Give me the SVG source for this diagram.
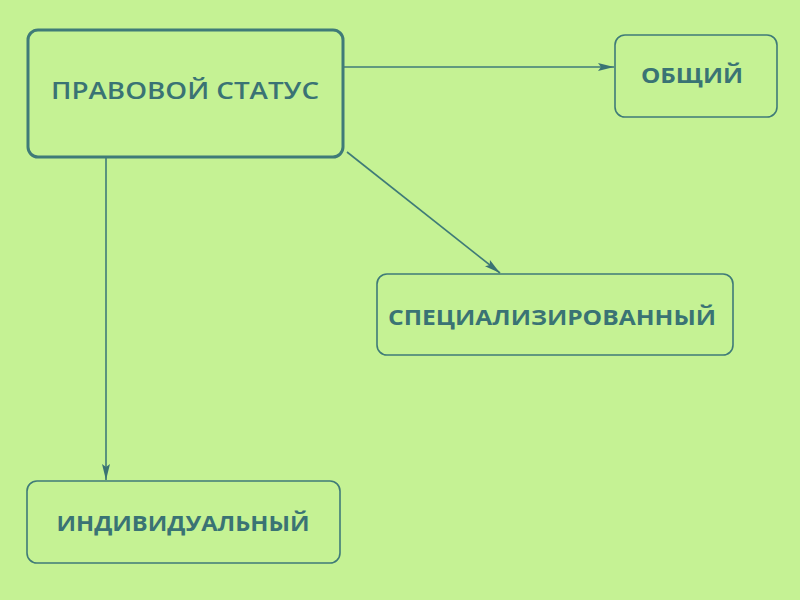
<svg xmlns="http://www.w3.org/2000/svg" width="800" height="600" viewBox="0 0 800 600">
<defs>
<style>
.box{fill:none;stroke:#3f7b78;stroke-width:1.6}
.main{fill:none;stroke:#3f7b78;stroke-width:3}
.lbl{font-family:"Open Sans","Liberation Sans",sans-serif;font-weight:bold;font-size:22px;fill:#3a7374;text-anchor:middle}
.mlbl{font-family:"Open Sans","Liberation Sans",sans-serif;font-weight:600;font-size:24px;fill:#3a7374;text-anchor:middle}
.conn{stroke:#3f7b78;stroke-width:1.6;fill:none}
</style>
<marker id="arr" viewBox="0 0 16 8" refX="16" refY="4" markerWidth="16" markerHeight="8" markerUnits="userSpaceOnUse" orient="auto">
<path d="M0,0 L16,4 L0,8 L3,4 Z" fill="#3a7374"/>
</marker>
</defs>
<rect width="800" height="600" fill="#c5f294"/>
<g id="connectors">
<line class="conn" x1="343" y1="67" x2="614" y2="67" marker-end="url(#arr)"/>
<line class="conn" x1="347" y1="152" x2="500" y2="273" marker-end="url(#arr)"/>
<line class="conn" x1="106" y1="157" x2="106" y2="480" marker-end="url(#arr)"/>
</g>
<g id="node-main">
<rect class="main" x="28" y="30" width="315" height="127" rx="10"/>
<text class="mlbl" x="185" y="99" textLength="268" lengthAdjust="spacingAndGlyphs">ПРАВОВОЙ  СТАТУС</text>
</g>
<g id="node-general">
<rect class="box" x="615" y="35" width="162" height="82" rx="10"/>
<text class="lbl" x="692" y="83" textLength="102" lengthAdjust="spacingAndGlyphs">ОБЩИЙ</text>
</g>
<g id="node-special">
<rect class="box" x="377" y="274" width="356" height="81" rx="10"/>
<text class="lbl" x="552" y="325" textLength="328" lengthAdjust="spacingAndGlyphs">СПЕЦИАЛИЗИРОВАННЫЙ</text>
</g>
<g id="node-individual">
<rect class="box" x="27" y="481" width="313" height="82" rx="10"/>
<text class="lbl" x="183" y="531" textLength="253" lengthAdjust="spacingAndGlyphs">ИНДИВИДУАЛЬНЫЙ</text>
</g>
</svg>
